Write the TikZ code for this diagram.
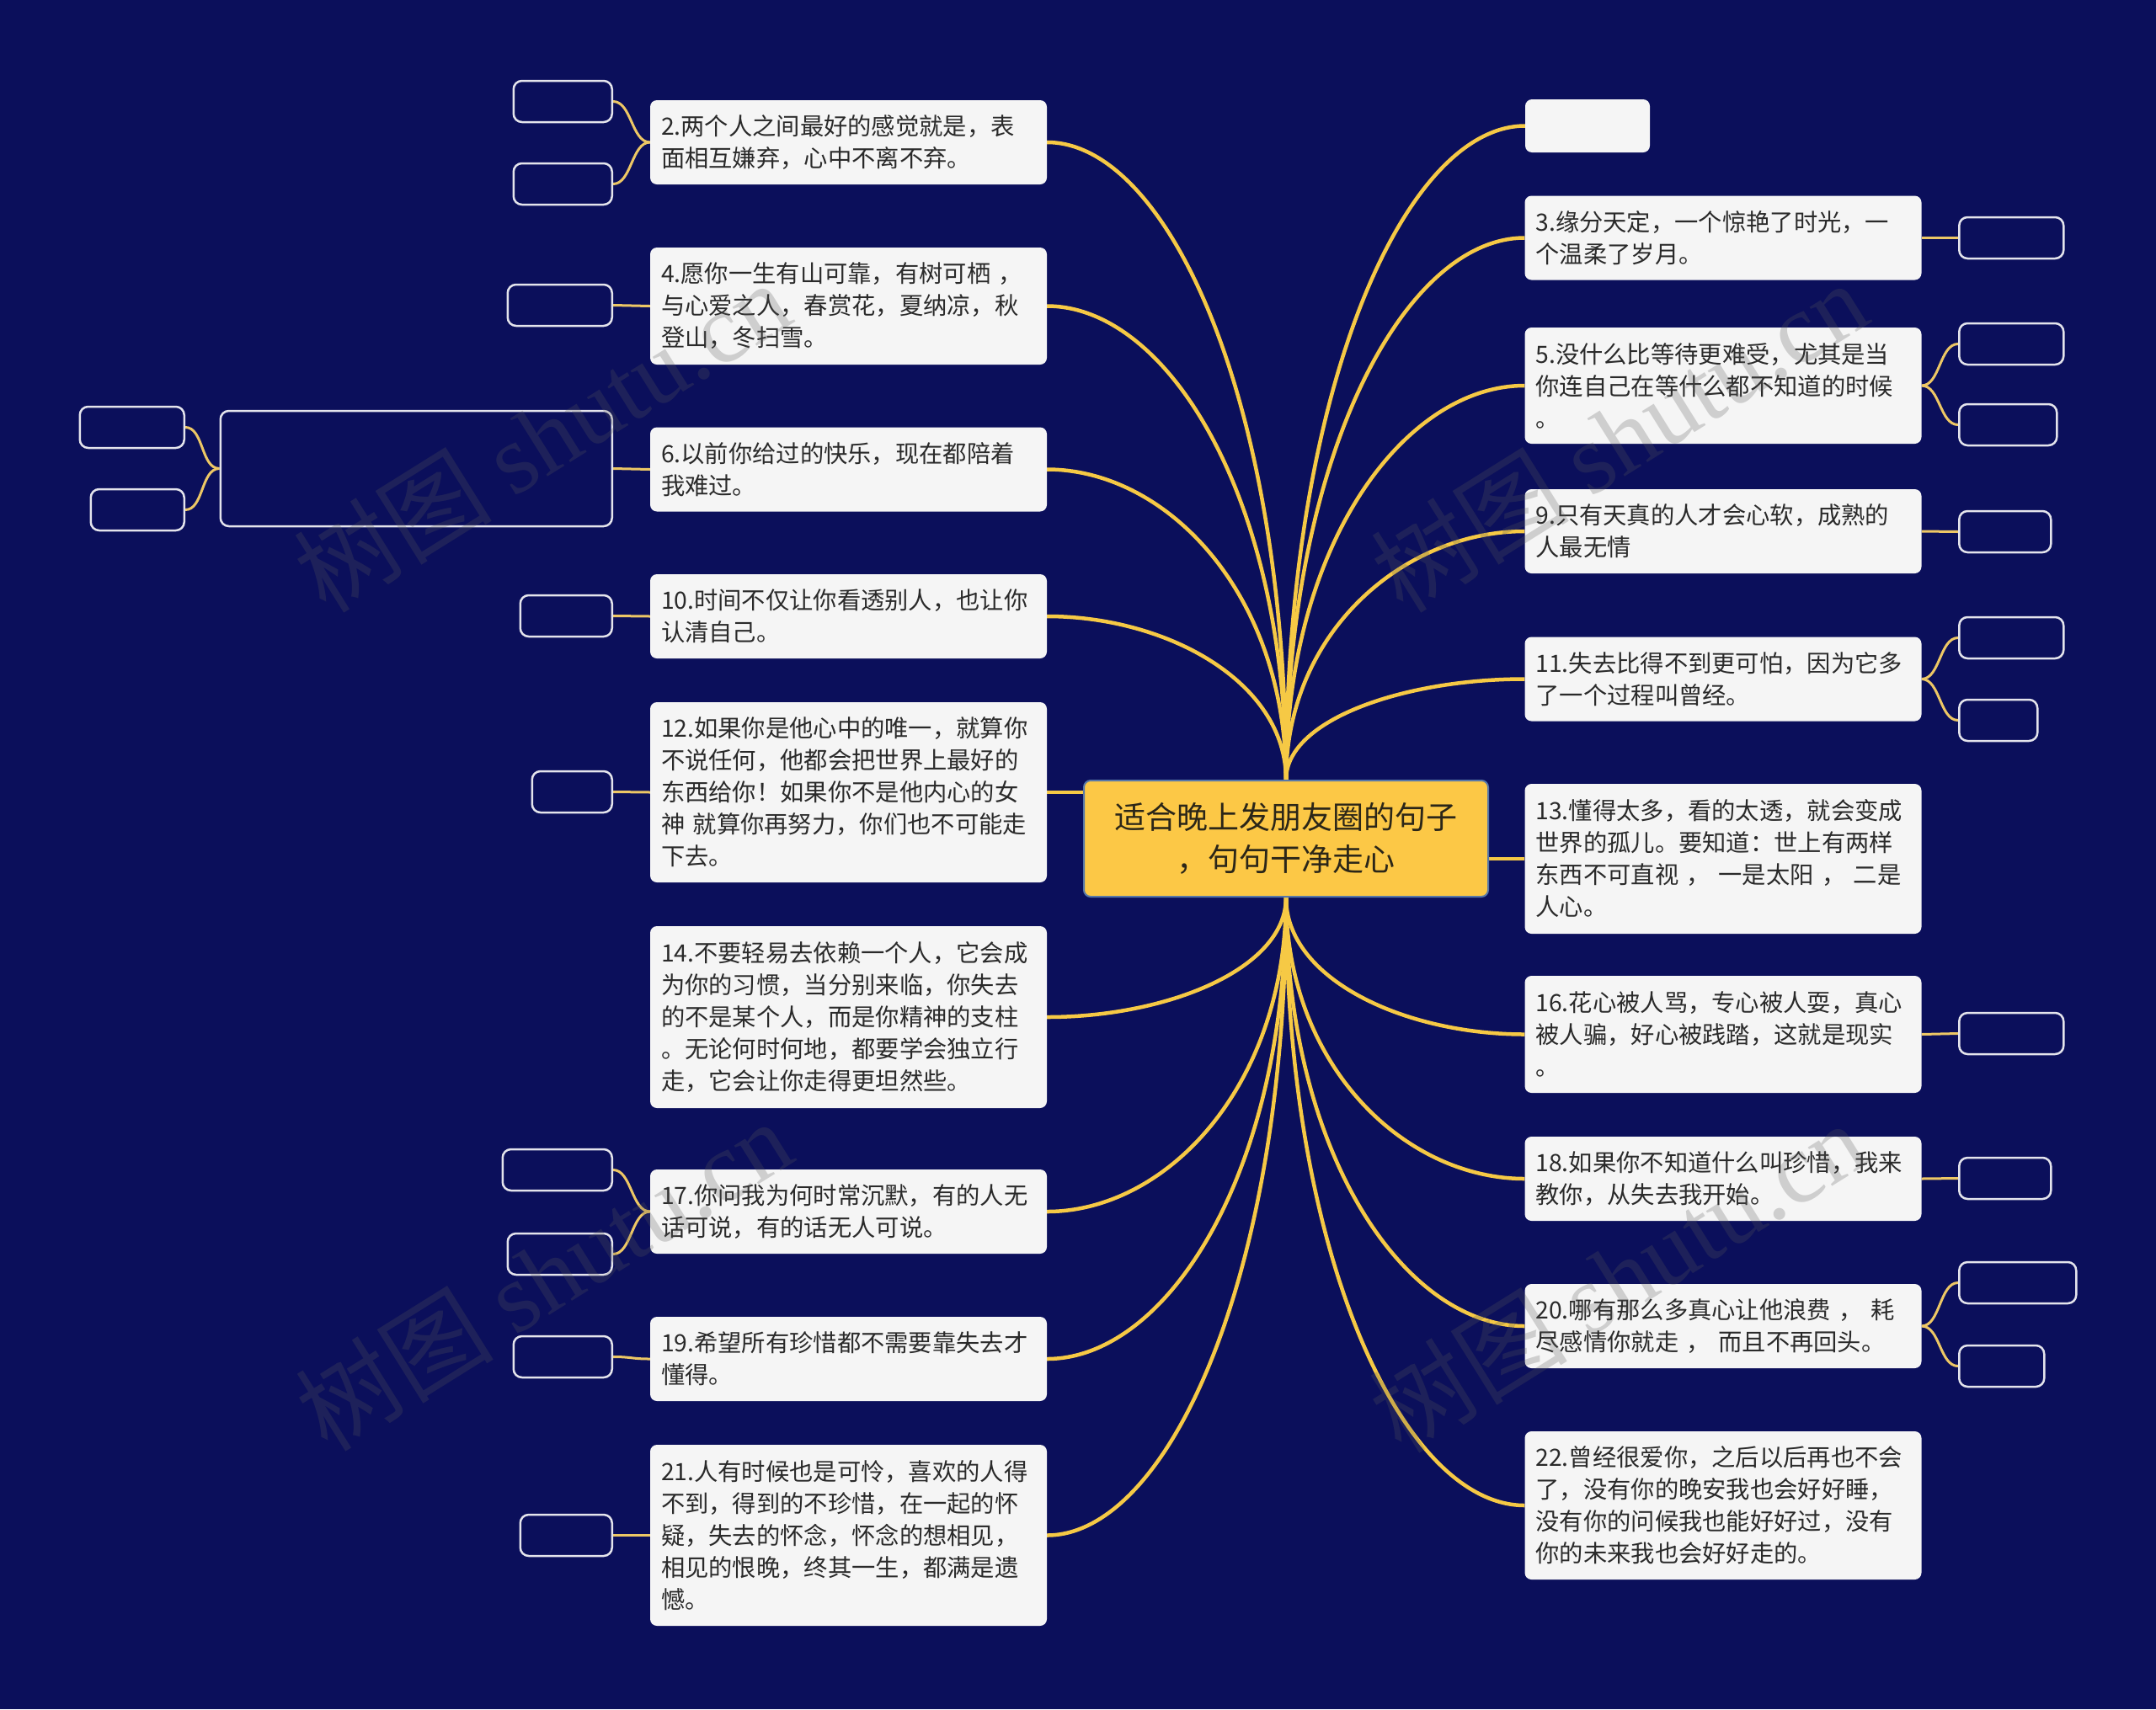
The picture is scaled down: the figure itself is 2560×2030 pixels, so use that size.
\documentclass[tikz,border=0pt]{standalone}
\usepackage{fontspec}
\setmainfont{Noto Sans CJK SC}
\newfontfamily\wmserif{Liberation Serif}
\usetikzlibrary{calc,backgrounds}
\definecolor{bgc}{HTML}{0B0F5B}
\definecolor{gold}{HTML}{F6C945}
\definecolor{goldl}{HTML}{EDC765}
\definecolor{boxf}{HTML}{F5F5F5}
\definecolor{txt}{HTML}{2A2A2A}
\definecolor{cfill}{HTML}{FCC846}
\definecolor{cdraw}{HTML}{5878A8}
\definecolor{ctxt}{HTML}{2B2618}
\definecolor{leafd}{HTML}{E4E4EC}
\definecolor{wmc}{HTML}{5A5A5A}
\begin{document}
\begin{tikzpicture}[x=1pt,y=-1pt,
  tbox/.style={rectangle, rounded corners=8pt, fill=boxf, text=txt,
    font=\fontsize{28.3}{38}\selectfont, align=left, text width=445pt,
    inner xsep=13pt, inner ysep=0pt, minimum height=100pt},
  leafbox/.style={rectangle, rounded corners=10pt, draw=leafd, line width=2.5pt,
    fill=bgc, inner sep=0pt, minimum height=49pt},
  cnode/.style={rectangle, rounded corners=8pt, fill=cfill, draw=cdraw, line width=2pt,
    text=ctxt, font=\fontsize{37}{50}\selectfont, align=center,
    minimum width=480pt, minimum height=138pt, inner sep=0pt},
  mline/.style={draw=gold, line width=4.5pt},
  lline/.style={draw=goldl, line width=3pt},
  wmark/.style={text=wmc, text opacity=0.25, rotate=32, inner sep=0pt,
    font=\fontsize{118}{118}\selectfont}
]
\useasboundingbox (0,0) rectangle (2560,2030);

% centre
\node[cnode] (c) at (1527,996) {适合晚上发朋友圈的句子\\，句句干净走心};

% left children
\node[tbox] (n2) at (1007.5,169) {2.两个人之间最好的感觉就是，表\\面相互嫌弃，心中不离不弃。};
\node[tbox, minimum height=139pt] (n4) at (1007.5,363.5) {4.愿你一生有山可靠，有树可栖 ，\\与心爱之人，春赏花，夏纳凉，秋\\登山，冬扫雪。};
\node[tbox] (n6) at (1007.5,557.5) {6.以前你给过的快乐，现在都陪着\\我难过。};
\node[tbox] (n10) at (1007.5,732) {10.时间不仅让你看透别人，也让你\\认清自己。};
\node[tbox, minimum height=214pt] (n12) at (1007.5,941) {12.如果你是他心中的唯一，就算你\\不说任何，他都会把世界上最好的\\东西给你！如果你不是他内心的女\\神 就算你再努力，你们也不可能走\\下去。};
\node[tbox, minimum height=216pt] (n14) at (1007.5,1208) {14.不要轻易去依赖一个人，它会成\\为你的习惯，当分别来临，你失去\\的不是某个人，而是你精神的支柱\\。无论何时何地，都要学会独立行\\走，它会让你走得更坦然些。};
\node[tbox] (n17) at (1007.5,1439) {17.你问我为何时常沉默，有的人无\\话可说，有的话无人可说。};
\node[tbox] (n19) at (1007.5,1614) {19.希望所有珍惜都不需要靠失去才\\懂得。};
\node[tbox, minimum height=215pt] (n21) at (1007.5,1823.5) {21.人有时候也是可怜，喜欢的人得\\不到，得到的不珍惜，在一起的怀\\疑，失去的怀念，怀念的想相见，\\相见的恨晚，终其一生，都满是遗\\憾。};

% right children
\node[rectangle, rounded corners=8pt, fill=boxf, minimum width=148pt, minimum height=63pt, inner sep=0pt] (e1) at (1885,149.5) {};
\node[tbox] (n3) at (2046,282.5) {3.缘分天定，一个惊艳了时光，一\\个温柔了岁月。};
\node[tbox, minimum height=138pt] (n5) at (2046,458) {5.没什么比等待更难受，尤其是当\\你连自己在等什么都不知道的时候\\。};
\node[tbox] (n9) at (2046,631) {9.只有天真的人才会心软，成熟的\\人最无情};
\node[tbox] (n11) at (2046,806.5) {11.失去比得不到更可怕，因为它多\\了一个过程叫曾经。};
\node[tbox, minimum height=178pt] (n13) at (2046,1020) {13.懂得太多，看的太透，就会变成\\世界的孤儿。要知道：世上有两样\\东西不可直视 ， 一是太阳 ， 二是\\人心。};
\node[tbox, minimum height=139pt] (n16) at (2046,1228.5) {16.花心被人骂，专心被人耍，真心\\被人骗，好心被践踏，这就是现实\\。};
\node[tbox] (n18) at (2046,1400) {18.如果你不知道什么叫珍惜，我来\\教你，从失去我开始。};
\node[tbox] (n20) at (2046,1575) {20.哪有那么多真心让他浪费 ， 耗\\尽感情你就走 ， 而且不再回头。};
\node[tbox, minimum height=176pt] (n22) at (2046,1788) {22.曾经很爱你，之后以后再也不会\\了，没有你的晚安我也会好好睡，\\没有你的问候我也能好好过，没有\\你的未来我也会好好走的。};

% left leaves
\node[leafbox, minimum width=117pt, anchor=east] (l2a) at (728,120.5) {};
\node[leafbox, minimum width=117pt, anchor=east] (l2b) at (728,218.5) {};
\node[leafbox, minimum width=124pt, anchor=east] (l4) at (728,362.5) {};
\node[leafbox, minimum width=465pt, minimum height=137pt, anchor=east] (b6) at (728,556.5) {};
\node[leafbox, minimum width=124pt, anchor=east] (l6a) at (220,507.5) {};
\node[leafbox, minimum width=111pt, anchor=east] (l6b) at (220,605.5) {};
\node[leafbox, minimum width=109pt, anchor=east] (l10) at (728,731.5) {};
\node[leafbox, minimum width=95pt, anchor=east] (l12) at (728,940.5) {};
\node[leafbox, minimum width=130pt, anchor=east] (l17a) at (728,1389.5) {};
\node[leafbox, minimum width=124pt, anchor=east] (l17b) at (728,1489.5) {};
\node[leafbox, minimum width=117pt, anchor=east] (l19) at (728,1611.5) {};
\node[leafbox, minimum width=109pt, anchor=east] (l21) at (728,1823.5) {};

% right leaves
\node[leafbox, minimum width=124pt, anchor=west] (r3) at (2325,282.5) {};
\node[leafbox, minimum width=124pt, anchor=west] (r5a) at (2325,408.5) {};
\node[leafbox, minimum width=116pt, anchor=west] (r5b) at (2325,504.5) {};
\node[leafbox, minimum width=109pt, anchor=west] (r9) at (2325,631.5) {};
\node[leafbox, minimum width=124pt, anchor=west] (r11a) at (2325,757.5) {};
\node[leafbox, minimum width=93pt, anchor=west] (r11b) at (2325,855.5) {};
\node[leafbox, minimum width=124pt, anchor=west] (r16) at (2325,1227.5) {};
\node[leafbox, minimum width=109pt, anchor=west] (r18) at (2325,1399.5) {};
\node[leafbox, minimum width=139pt, anchor=west] (r20a) at (2325,1523.5) {};
\node[leafbox, minimum width=101pt, anchor=west] (r20b) at (2325,1622.5) {};

\begin{pgfonlayer}{background}
  \fill[bgc] (0,0) rectangle (2560,2030);
  % main connectors, upper
  \foreach \n in {n2,n4,n6,n10}
    \draw[mline] (c.north) .. controls ($(c.north)!0.6!(c.north |- \n.east)$) and ($(\n.east)!0.5!(\n.east -| c.north)$) .. (\n.east);
  \foreach \n in {e1,n3,n5,n9,n11}
    \draw[mline] (c.north) .. controls ($(c.north)!0.6!(c.north |- \n.west)$) and ($(\n.west)!0.5!(\n.west -| c.north)$) .. (\n.west);
  % main connectors, lower
  \foreach \n in {n14,n17,n19,n21}
    \draw[mline] (c.south) .. controls ($(c.south)!0.6!(c.south |- \n.east)$) and ($(\n.east)!0.5!(\n.east -| c.south)$) .. (\n.east);
  \foreach \n in {n16,n18,n20,n22}
    \draw[mline] (c.south) .. controls ($(c.south)!0.6!(c.south |- \n.west)$) and ($(\n.west)!0.5!(\n.west -| c.south)$) .. (\n.west);
  % straight ones
  \draw[mline] (n12.east) -- (n12.east -| c.west);
  \draw[mline] (n13.west) -- (n13.west -| c.east);
  % leaf connectors left
  \foreach \a/\b in {n2/l2a,n2/l2b,n4/l4,n6/b6,b6/l6a,b6/l6b,n10/l10,n12/l12,n17/l17a,n17/l17b,n19/l19,n21/l21}
    \draw[lline] (\a.west) .. controls +(-22,0) and +(22,0) .. (\b.east);
  % leaf connectors right
  \foreach \a/\b in {n3/r3,n5/r5a,n5/r5b,n9/r9,n11/r11a,n11/r11b,n16/r16,n18/r18,n20/r20a,n20/r20b}
    \draw[lline] (\a.east) .. controls +(22,0) and +(-22,0) .. (\b.west);
\end{pgfonlayer}

% watermarks
\node[wmark] (w1) at (643,518) {树图 {\wmserif shutu.cn}};
\node[wmark] (w2) at (1922,518) {树图 {\wmserif shutu.cn}};
\node[wmark] (w3) at (645,1514) {树图 {\wmserif shutu.cn}};
\node[wmark] (w4) at (1920,1516) {树图 {\wmserif shutu.cn}};
\end{tikzpicture}
\end{document}
